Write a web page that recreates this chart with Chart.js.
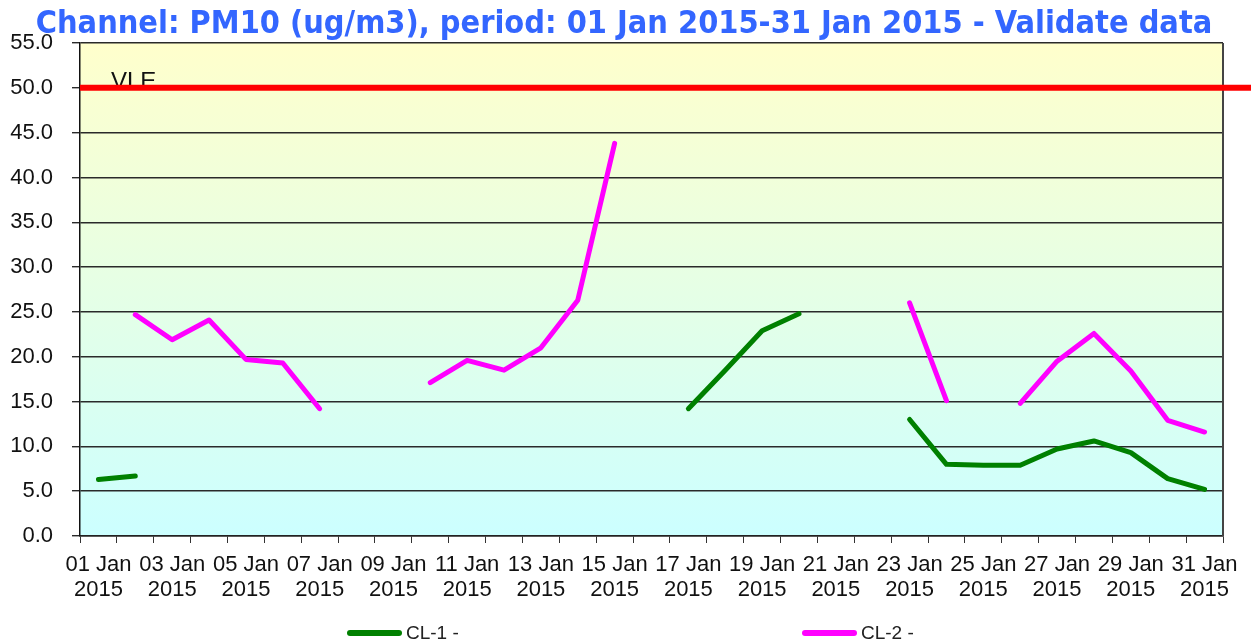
<!DOCTYPE html>
<html>
<head>
<meta charset="utf-8">
<title>PM10 January 2015</title>
<script src="https://cdn.jsdelivr.net/npm/chart.js@4.4.1/dist/chart.umd.min.js"></script>
<style>
  body { margin: 0; background: #fff; }
  #wrap { position: relative; width: 1255px; height: 641px; }
  .legend-item { position: absolute; top: 620px; height: 26px; display: flex; align-items: center;
    font-family: 'Liberation Sans', Arial, sans-serif; font-size: 19px; color: #222; }
  .legend-line { width: 55px; height: 6px; border-radius: 3px; margin-right: 4px; }
</style>
</head>
<body>
<div id="wrap">
  <canvas id="pmChart" width="1255" height="641"></canvas>
  <div class="legend-item" style="left:347px"><span class="legend-line" style="background:#008000"></span>CL-1 -</div>
  <div class="legend-item" style="left:802px"><span class="legend-line" style="background:#ff00ff"></span>CL-2 -</div>
</div>
<script>
// daily values, 01..31 Jan 2015 (null = no valid data)
const days = ['01','02','03','04','05','06','07','08','09','10','11','12','13','14','15','16',
              '17','18','19','20','21','22','23','24','25','26','27','28','29','30','31'];
const cl1 = [6.3, 6.7, null, null, null, null, null, null, null, null, null, null, null, null, null, null,
             14.2, 18.5, 22.9, 24.8, null, null, 13.0, 8.0, 7.9, 7.9, 9.7, 10.6, 9.3, 6.4, 5.2];
const cl2 = [null, 24.7, 21.9, 24.1, 19.7, 19.3, 14.2, null, null, 17.1, 19.6, 18.5, 21.0, 26.3, 43.8, null,
             null, null, null, null, null, null, 26.0, 15.1, null, 14.8, 19.5, 22.6, 18.4, 12.9, 11.6];
const vle = [50];
const yTicks = [0, 5, 10, 15, 20, 25, 30, 35, 40, 45, 50, 55];

const titleText = 'Channel: PM10 (ug/m3), period: 01 Jan 2015-31 Jan 2015 - Validate data';
const FONT = "'Liberation Sans', Arial, sans-serif";

const decor = {
  id: 'decor',
  beforeDraw(chart) {
    const { ctx, chartArea: a } = chart;
    const g = ctx.createLinearGradient(0, a.top, 0, a.bottom);
    g.addColorStop(0, '#ffffcc');
    g.addColorStop(1, '#ccffff');
    ctx.save();
    ctx.fillStyle = g;
    ctx.fillRect(a.left, a.top, a.right - a.left, a.bottom - a.top);
    ctx.restore();
  },
  afterDatasetsDraw(chart) {
    const { ctx, chartArea: a, scales } = chart;
    const y = scales.y.getPixelForValue(vle[0]);
    ctx.save();
    // right border
    ctx.strokeStyle = '#444';
    ctx.lineWidth = 2;
    ctx.beginPath();
    ctx.moveTo(a.right, a.top);
    ctx.lineTo(a.right, a.bottom);
    ctx.stroke();
    // VLE label + limit line
    ctx.fillStyle = '#111';
    ctx.font = '24px ' + FONT;
    ctx.textBaseline = 'alphabetic';
    ctx.fillText('VLE', a.left + 31, y + 1);
    ctx.strokeStyle = '#ff0000';
    ctx.lineWidth = 6;
    ctx.beginPath();
    ctx.moveTo(a.left, y);
    ctx.lineTo(a.right + 28, y);
    ctx.stroke();
    ctx.restore();
  },
  afterDraw(chart) {
    const ctx = chart.ctx;
    ctx.save();
    let size = 32;
    ctx.font = 'bold ' + size + "px 'DejaVu Sans Condensed', 'DejaVu Sans', sans-serif";
    const w = ctx.measureText(titleText).width;
    size = size * 1177 / w;
    ctx.font = 'bold ' + size.toFixed(1) + "px 'DejaVu Sans Condensed', 'DejaVu Sans', sans-serif";
    ctx.fillStyle = '#3366ff';
    ctx.textAlign = 'center';
    ctx.textBaseline = 'alphabetic';
    ctx.fillText(titleText, 624, 33);
    ctx.restore();
  }
};

const ctx = document.getElementById('pmChart').getContext('2d');
const pmChart = new Chart(ctx, {
  type: 'line',
  data: {
    labels: days,
    datasets: [
      { label: 'CL-1 -', data: cl1, borderColor: '#008000', borderWidth: 5 },
      { label: 'CL-2 -', data: cl2, borderColor: '#ff00ff', borderWidth: 5 }
    ]
  },
  options: {
    responsive: false,
    animation: false,
    devicePixelRatio: 1,
    spanGaps: false,
    elements: {
      point: { radius: 0, hoverRadius: 0 },
      line: { tension: 0, borderCapStyle: 'round', borderJoinStyle: 'round' }
    },
    layout: { padding: { left: 0, top: 43, right: 32, bottom: 0 } },
    scales: {
      x: {
        type: 'category',
        offset: true,
        grid: { offset: true, drawOnChartArea: false, drawTicks: true, tickLength: 7, color: '#333', lineWidth: 1 },
        border: { color: '#222', width: 1.5 },
        ticks: {
          autoSkip: false,
          maxRotation: 0,
          minRotation: 0,
          padding: 9,
          color: '#111',
          font: { family: FONT, size: 22, lineHeight: 1.15 },
          callback: function(value, index) {
            return index % 2 === 0 ? [days[index] + ' Jan', '2015'] : '';
          }
        },
        afterFit: function(scale) { scale.height = 105; }
      },
      y: {
        min: 0,
        max: 55,
        afterBuildTicks: function(scale) { scale.ticks = yTicks.map(v => ({ value: v })); },
        grid: { color: '#2a2a2a', lineWidth: 1.4, tickLength: 8 },
        border: { color: '#111', width: 1.5 },
        ticks: {
          padding: 19,
          color: '#111',
          font: { family: FONT, size: 22 },
          callback: v => Number(v).toFixed(1)
        },
        afterFit: function(scale) { scale.width = 80; }
      }
    },
    plugins: {
      legend: { display: false },
      title: { display: false },
      tooltip: { enabled: false }
    }
  },
  plugins: [decor]
});
</script>
</body>
</html>
